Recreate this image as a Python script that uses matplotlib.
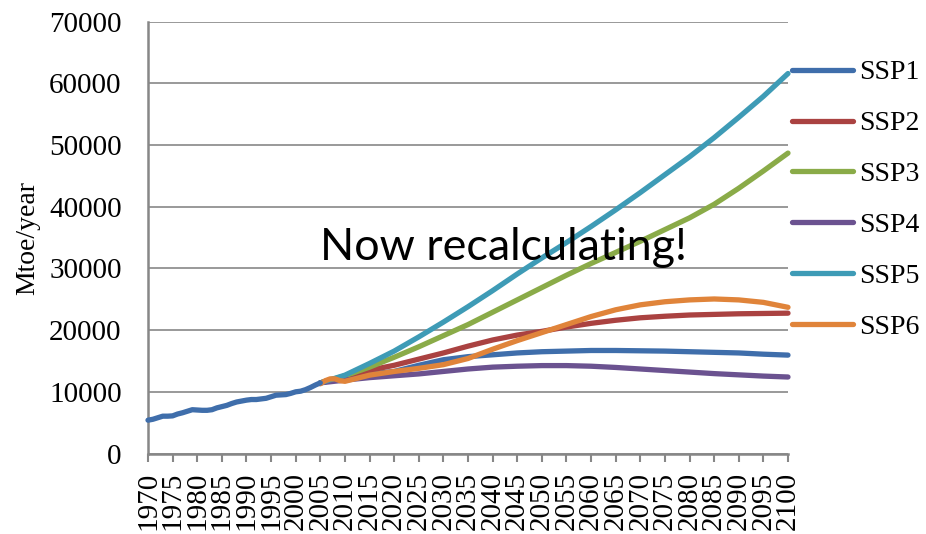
import matplotlib
matplotlib.use("Agg")
from matplotlib import pyplot as plt
import numpy as np

# historical world primary energy, shared by all scenarios (SSP1 colour)
hist_years = list(range(1970, 2006))
hist_vals = [5400, 5550, 5800, 6050, 6050, 6100, 6400, 6600, 6850, 7100,
             7050, 7000, 7000, 7100, 7400, 7600, 7800, 8100, 8350, 8500,
             8650, 8750, 8750, 8850, 8950, 9200, 9450, 9500, 9550, 9750,
             10000, 10100, 10350, 10700, 11100, 11450]

scen_years = list(range(2005, 2101, 5))
ssp1 = [11450, 12300, 12900, 13300, 14300, 15200, 15700, 16000, 16300, 16500,
        16600, 16700, 16700, 16650, 16600, 16500, 16400, 16300, 16100, 15950]
ssp2 = [11450, 12500, 13500, 14300, 15300, 16300, 17400, 18400, 19200, 19800,
        20500, 21100, 21600, 22000, 22250, 22450, 22550, 22650, 22700, 22750]
ssp3 = [11450, 12600, 14000, 15600, 17300, 19100, 20900, 22900, 24900, 26900,
        28900, 30800, 32600, 34400, 36300, 38200, 40400, 43000, 45800, 48700]
ssp4 = [11450, 11900, 12300, 12600, 12900, 13300, 13700, 14000, 14150, 14250,
        14250, 14150, 13950, 13700, 13450, 13200, 12950, 12750, 12550, 12400]
ssp5 = [11450, 12700, 14600, 16600, 18900, 21300, 23800, 26400, 29100, 31700,
        34200, 36800, 39500, 42300, 45200, 48100, 51200, 54500, 57900, 61600]

ssp6_years = [2005, 2006, 2007, 2008, 2009, 2010] + list(range(2015, 2101, 5))
ssp6 = [11300, 11800, 12100, 12100, 11800, 11700, 12700, 13300, 13800, 14400,
        15400, 16900, 18300, 19600, 20900, 22200, 23300, 24100, 24600, 24900,
        25050, 24900, 24500, 23700]

names = ["SSP1", "SSP2", "SSP3", "SSP4", "SSP5", "SSP6"]
colors = ["#3F6EAB", "#AA4241", "#8AAB48", "#6B5290", "#3E9BB6", "#E0843A"]

x_ticks = list(range(1970, 2101, 5))
y_ticks = list(range(0, 70001, 10000))

serif = "Liberation Serif"

fig = plt.figure(figsize=(9.26, 5.34), dpi=100)
ax = fig.add_axes([148 / 926, 1 - 453.5 / 534, 640 / 926, (453.5 - 21.7) / 534])

lw = 3.8
series = [(scen_years, ssp1), (scen_years, ssp2), (scen_years, ssp3),
          (scen_years, ssp4), (scen_years, ssp5), (ssp6_years, ssp6)]
handles = []
for (xs, ys), name, c in zip(series, names, colors):
    h, = ax.plot(xs, ys, color=c, lw=lw, solid_capstyle="round",
                 solid_joinstyle="round", clip_on=False, label=name, zorder=3)
    handles.append(h)
# history on top of the scenario starts
ax.plot(hist_years, hist_vals, color=colors[0], lw=lw, solid_capstyle="round",
        solid_joinstyle="round", clip_on=False, zorder=4)

ax.set_xlim(1970, 2100)
ax.set_ylim(0, 70000)
ax.set_xticks(x_ticks)
ax.set_xticklabels([str(v) for v in x_ticks], rotation=90, fontfamily=serif, fontsize=21)
ax.set_yticks(y_ticks)
ax.set_yticklabels([str(v) for v in y_ticks], fontfamily=serif, fontsize=21)

grey = "#878787"
ax.grid(axis="y", color=grey, lw=1.2, zorder=1)
ax.set_axisbelow(True)
for s in ["top", "right"]:
    ax.spines[s].set_visible(False)
for s in ["left", "bottom"]:
    ax.spines[s].set_color(grey)
    ax.spines[s].set_linewidth(1.8)
ax.tick_params(axis="x", direction="out", length=6, width=1.5, color=grey, pad=7)
ax.tick_params(axis="y", length=0, pad=19)

ax.set_ylabel("Mtoe/year", fontfamily=serif, fontsize=20, labelpad=6)

ax.text(2042.3, 31400, "Now recalculating!", fontfamily="Lato", fontsize=32.3,
        ha="center", va="baseline", zorder=5)

leg = ax.legend(handles=handles, loc="upper left", bbox_to_anchor=(792 / 926, 1 - 60 / 534),
                bbox_transform=fig.transFigure, frameon=False, prop={"family": serif, "size": 20},
                handlelength=2.2, handletextpad=0.2, labelspacing=0.915, borderpad=0,
                borderaxespad=0)
for line in leg.get_lines():
    line.set_linewidth(lw)
    line.set_solid_capstyle("round")

fig.savefig("out.png", dpi=100)
